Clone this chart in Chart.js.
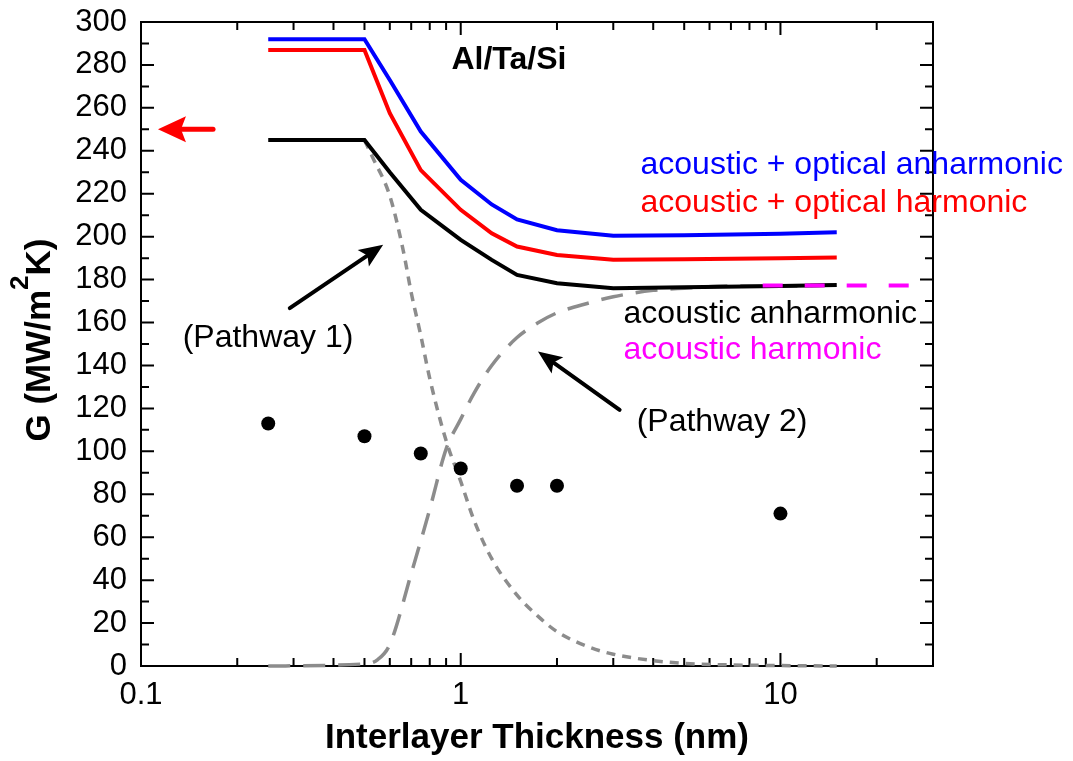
<!DOCTYPE html>
<html>
<head>
<meta charset="utf-8">
<title>Al/Ta/Si thermal boundary conductance</title>
<script src="https://cdn.jsdelivr.net/npm/chart.js@4.4.1/dist/chart.umd.min.js"></script>
<style>
  html, body { margin: 0; padding: 0; background: #fff; }
  #wrap { width: 1073px; height: 761px; }
</style>
</head>
<body>
<div id="wrap"><canvas id="chartG" width="1073" height="761"></canvas></div>
<script>
// model curves, all on the same thickness grid (nm)
var thick = [0.25, 0.5, 0.6, 0.75, 1, 1.25, 1.5, 2, 3, 5, 10, 15];
var acOptAnh = [292, 292, 273, 249, 226.5, 215, 208, 203, 200.4, 200.7, 201.4, 202];
var acOptHarm = [287, 287, 257.5, 231, 212.5, 201.6, 195.4, 191.5, 189.3, 189.5, 189.9, 190.3];
var acAnh = [245, 245, 230, 212.5, 198.5, 189.2, 182.2, 178.3, 176, 176.4, 177, 177.5];

// acoustic harmonic, only the part past the anharmonic curve
var acHarmX = [8.8, 25.5];
var acHarmY = [177.2, 177.2];

// pathway 1 (short dash)
var path1X = [0.5, 0.53, 0.6, 0.66, 0.7, 0.75, 0.8, 0.9, 1, 1.1, 1.25, 1.5, 1.75, 2, 2.5, 3, 4, 5, 7, 10, 15];
var path1Y = [245, 237, 219, 194, 174, 154, 134, 105, 86, 68, 50, 33, 23, 16, 9, 5.5, 2.5, 1.2, 0.5, 0.2, 0];

// pathway 2 (long dash)
var path2X = [0.25, 0.5, 0.55, 0.6, 0.7, 0.8, 0.9, 1, 1.1, 1.25, 1.5, 1.75, 2, 2.5, 3, 4, 5, 7, 10, 15];
var path2Y = [0, 1, 3, 10, 43, 73, 101, 115, 127, 140, 153, 160, 164.5, 169, 172, 175, 176, 177, 177, 177.5];

// measured G
var measX = [0.25, 0.5, 0.75, 1, 1.5, 2, 10];
var measY = [113, 107, 99, 92, 84, 84, 71];

var xTickVals = [0.1, 1, 10];

var FONT = "'Liberation Sans', Arial, sans-serif";

// labels and arrows, placed in data units
var notes = [
  {text: 'Al/Ta/Si', x: 0.935, y: 282.4, color: '#000000', bold: true},
  {text: 'acoustic + optical anharmonic', x: 3.65, y: 233.5, color: '#0000ff'},
  {text: 'acoustic + optical harmonic', x: 3.65, y: 215.8, color: '#ff0000'},
  {text: 'acoustic anharmonic', x: 3.23, y: 163.7, color: '#000000'},
  {text: 'acoustic harmonic', x: 3.23, y: 147.3, color: '#ff00ff'},
  {text: '(Pathway 1)', x: 0.135, y: 152.5, color: '#000000'},
  {text: '(Pathway 2)', x: 3.55, y: 113.8, color: '#000000'}
];
var arrows = [
  {x0: 0.168, y0: 250, x1: 0.113, y1: 250, color: '#ff0000', w: 5, head: 28, half: 13},
  {x0: 0.292, y0: 166.7, x1: 0.572, y1: 196.2, color: '#000000', w: 4, head: 24, half: 10},
  {x0: 3.14, y0: 119.3, x1: 1.744, y1: 146.5, color: '#000000', w: 4, head: 24, half: 10}
];

function pts(xs, ys) {
  return xs.map(function (x, i) { return {x: x, y: ys[i]}; });
}

// box around the plot with inward ticks on all four sides
var frame = {
  id: 'frame',
  beforeDatasetsDraw: function (chart) {
    var ctx = chart.ctx, a = chart.chartArea;
    var sx = chart.scales.x, sy = chart.scales.y;
    ctx.save();
    ctx.strokeStyle = '#000';
    ctx.lineWidth = 2;
    ctx.strokeRect(a.left, a.top, a.right - a.left, a.bottom - a.top);
    ctx.beginPath();
    for (var d = -1; d <= 1; d++) {
      for (var m = 1; m <= 9; m++) {
        var v = m * Math.pow(10, d);
        if (v > 30.001) break;
        var px = sx.getPixelForValue(v);
        var len = m === 1 ? 13 : 8;
        ctx.moveTo(px, a.bottom); ctx.lineTo(px, a.bottom - len);
        ctx.moveTo(px, a.top); ctx.lineTo(px, a.top + len);
      }
    }
    for (var g = 0; g <= 300; g += 10) {
      var py = sy.getPixelForValue(g);
      var l2 = g % 20 === 0 ? 13 : 8;
      ctx.moveTo(a.left, py); ctx.lineTo(a.left + l2, py);
      ctx.moveTo(a.right, py); ctx.lineTo(a.right - l2, py);
    }
    ctx.stroke();
    ctx.restore();
  }
};

var annot = {
  id: 'annot',
  afterDatasetsDraw: function (chart) {
    var ctx = chart.ctx, sx = chart.scales.x, sy = chart.scales.y;
    ctx.save();
    notes.forEach(function (n) {
      ctx.font = (n.bold ? 'bold ' : '') + '32px ' + FONT;
      ctx.fillStyle = n.color;
      ctx.textAlign = 'left';
      ctx.textBaseline = 'middle';
      ctx.fillText(n.text, sx.getPixelForValue(n.x), sy.getPixelForValue(n.y));
    });
    arrows.forEach(function (r) {
      var x0 = sx.getPixelForValue(r.x0), y0 = sy.getPixelForValue(r.y0);
      var x1 = sx.getPixelForValue(r.x1), y1 = sy.getPixelForValue(r.y1);
      var ang = Math.atan2(y1 - y0, x1 - x0);
      var bx = x1 - Math.cos(ang) * r.head, by = y1 - Math.sin(ang) * r.head;
      ctx.strokeStyle = r.color;
      ctx.fillStyle = r.color;
      ctx.lineWidth = r.w;
      ctx.lineCap = 'round';
      ctx.beginPath();
      ctx.moveTo(x0, y0);
      ctx.lineTo(bx + Math.cos(ang) * 4, by + Math.sin(ang) * 4);
      ctx.stroke();
      ctx.beginPath();
      ctx.moveTo(x1, y1);
      ctx.lineTo(bx + Math.sin(ang) * r.half, by - Math.cos(ang) * r.half);
      ctx.lineTo(bx + Math.cos(ang) * 5, by + Math.sin(ang) * 5);
      ctx.lineTo(bx - Math.sin(ang) * r.half, by + Math.cos(ang) * r.half);
      ctx.closePath();
      ctx.fill();
    });
    ctx.restore();
  }
};

// rotated y title with a raised 2
var yTitle = {
  id: 'yTitle',
  afterDraw: function (chart) {
    var ctx = chart.ctx, a = chart.chartArea;
    var main = 'bold 35px ' + FONT, sup = 'bold 26px ' + FONT;
    var p1 = 'G (MW/m', p2 = '2', p3 = 'K)';
    ctx.save();
    ctx.font = main;
    var w1 = ctx.measureText(p1).width, w3 = ctx.measureText(p3).width;
    ctx.font = sup;
    var w2 = ctx.measureText(p2).width;
    var total = w1 + w2 + w3;
    ctx.translate(50, (a.top + a.bottom) / 2 - 4);
    ctx.rotate(-Math.PI / 2);
    ctx.fillStyle = '#000';
    ctx.textBaseline = 'alphabetic';
    ctx.textAlign = 'left';
    var x = -total / 2;
    ctx.font = main;
    ctx.fillText(p1, x, 0);
    ctx.font = sup;
    ctx.fillText(p2, x + w1, -22);
    ctx.font = main;
    ctx.fillText(p3, x + w1 + w2, 0);
    ctx.restore();
  }
};

var ctxG = document.getElementById('chartG');
new Chart(ctxG, {
  type: 'line',
  data: {
    datasets: [
      {label: 'acoustic harmonic', data: pts(acHarmX, acHarmY), borderColor: '#ff00ff',
       borderWidth: 4, borderDash: [20, 22], pointRadius: 0, tension: 0},
      {type: 'scatter', label: 'measured', data: pts(measX, measY), backgroundColor: '#000',
       borderWidth: 0, pointRadius: 7},
      {label: 'acoustic anharmonic', data: pts(thick, acAnh), borderColor: '#000000',
       borderWidth: 4, pointRadius: 0, tension: 0},
      {label: 'acoustic + optical harmonic', data: pts(thick, acOptHarm), borderColor: '#ff0000',
       borderWidth: 4, pointRadius: 0, tension: 0},
      {label: 'acoustic + optical anharmonic', data: pts(thick, acOptAnh), borderColor: '#0000ff',
       borderWidth: 4, pointRadius: 0, tension: 0},
      {label: 'Pathway 1', data: pts(path1X, path1Y), borderColor: '#8c8c8c',
       borderWidth: 3.5, borderDash: [9, 7], pointRadius: 0, cubicInterpolationMode: 'monotone', clip: false},
      {label: 'Pathway 2', data: pts(path2X, path2Y), borderColor: '#8c8c8c',
       borderWidth: 3.5, borderDash: [22, 13], pointRadius: 0, cubicInterpolationMode: 'monotone', clip: false}
    ]
  },
  options: {
    responsive: false,
    animation: false,
    layout: {padding: {top: 22, right: 140, left: 0, bottom: 0}},
    plugins: {legend: {display: false}, tooltip: {enabled: false}},
    scales: {
      x: {
        type: 'logarithmic',
        min: 0.1,
        max: 30,
        grid: {display: false, drawTicks: false},
        border: {display: false},
        afterBuildTicks: function (scale) {
          scale.ticks = xTickVals.map(function (v) { return {value: v}; });
        },
        afterFit: function (scale) {
          scale.height = 95;
          scale.paddingLeft = 0;
          scale.paddingRight = 0;
        },
        ticks: {
          color: '#000',
          padding: 11,
          maxRotation: 0,
          autoSkip: false,
          font: {family: FONT, size: 31},
          callback: function (v) { return String(v); }
        },
        title: {
          display: true,
          text: 'Interlayer Thickness (nm)',
          color: '#000',
          font: {family: FONT, size: 35, weight: 'bold'},
          padding: {top: 0, bottom: 2}
        }
      },
      y: {
        type: 'linear',
        min: 0,
        max: 300,
        grid: {display: false, drawTicks: false},
        border: {display: false},
        afterFit: function (scale) {
          scale.width = 141;
          scale.paddingTop = 0;
          scale.paddingBottom = 0;
        },
        ticks: {
          stepSize: 20,
          color: '#000',
          padding: 14,
          font: {family: FONT, size: 31}
        }
      }
    }
  },
  plugins: [frame, annot, yTitle]
});
</script>
</body>
</html>
